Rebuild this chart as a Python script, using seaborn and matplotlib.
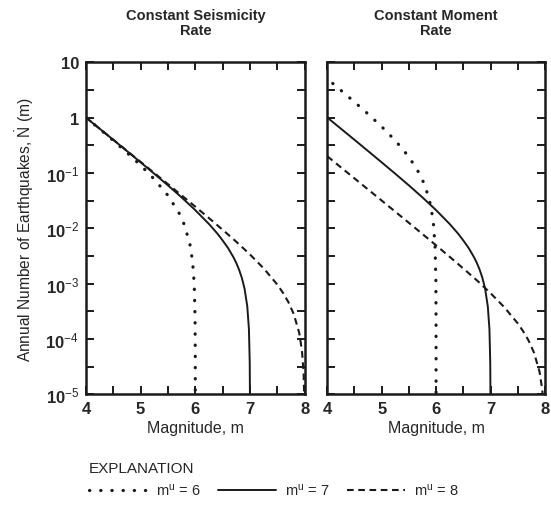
import numpy as np
import pandas as pd
import matplotlib
matplotlib.use("Agg")
import matplotlib.pyplot as plt
from matplotlib import ticker
import seaborn as sns

sns.set_style("ticks")
plt.rcParams["font.family"] = ["Liberation Sans", "DejaVu Sans"]
plt.rcParams["mathtext.fontset"] = "custom"
plt.rcParams["mathtext.rm"] = "Liberation Sans"
plt.rcParams["mathtext.it"] = "Liberation Sans"

BLACK = "#1a1a1a"

# ---- data ----
# constant seismicity rate panel
m_u6 = [4.0, 4.25, 4.5, 4.75, 5.0, 5.25, 5.5, 5.7, 5.8, 5.9, 5.95, 5.98, 5.995, 5.999, 6.0]
left_u6 = [1.0, 0.622, 0.383, 0.232, 0.137, 0.0768, 0.039, 0.019, 0.0115, 0.0052,
           0.0025, 0.00097, 0.00024, 0.000048, 1e-6]

m_u7 = [4.0, 4.25, 4.5, 4.75, 5.0, 5.25, 5.5, 5.75, 6.0, 6.25, 6.4, 6.5, 6.6, 6.7,
        6.75, 6.8, 6.85, 6.9, 6.95, 6.98, 6.995, 6.999, 7.0]
left_u7 = [1.0, 0.63, 0.396, 0.248, 0.155, 0.0964, 0.0594, 0.036, 0.0212, 0.0119,
           0.00807, 0.006, 0.00436, 0.00295, 0.00234, 0.00178, 0.00127, 0.00081,
           0.000386, 0.00015, 0.000037, 0.0000074, 1e-6]

m_u8 = [4.0, 4.25, 4.5, 4.75, 5.0, 5.25, 5.5, 5.75, 6.0, 6.25, 6.5, 6.75, 7.0, 7.25,
        7.5, 7.6, 7.7, 7.8, 7.9, 7.95, 7.98, 7.995, 8.0]
left_u8 = [1.0, 0.63, 0.3975, 0.2506, 0.158, 0.0994, 0.0625, 0.0392, 0.0245, 0.0152,
           0.00937, 0.00568, 0.00335, 0.00188, 0.000954, 0.000687, 0.000465,
           0.000281, 0.000128, 0.000061, 0.000024, 0.0000058, 1e-7]

# constant moment rate panel
m_u6_right = [4.1, 4.25, 4.5, 4.75, 5.0, 5.25, 5.5, 5.7, 5.8, 5.9, 5.95, 5.98, 5.995, 5.999, 6.0]
right_u6 = [4.14, 3.11, 1.91, 1.16, 0.684, 0.384, 0.195, 0.095, 0.0574, 0.0261,
            0.0124, 0.0048, 0.0012, 0.00024, 1e-6]
right_u7 = left_u7
right_u8 = [0.2, 0.126, 0.0795, 0.0501, 0.0316, 0.0199, 0.0125, 0.00784, 0.0049,
            0.00304, 0.00187, 0.00114, 0.00067, 0.000376, 0.000191, 0.000137,
            0.000093, 0.000056, 0.0000256, 0.0000122, 0.0000048, 0.0000012, 1e-7]

panel_titles = ["Constant Seismicity\nRate", "Constant Moment\nRate"]
legend_labels = ["m$^{\\mathrm{u}}$ = 6", "m$^{\\mathrm{u}}$ = 7", "m$^{\\mathrm{u}}$ = 8"]
y_ticks = [1e-5, 1e-4, 1e-3, 1e-2, 1e-1, 1, 10]

styles = {
    "u6": dict(linestyle=(0, (0.1, 3.4)), lw=2.3, dash_capstyle="round"),
    "u7": dict(linestyle="-", lw=1.4),
    "u8": dict(linestyle=(0, (3.2, 2.2)), lw=1.5),
}

fig = plt.figure(figsize=(5.51, 5.06), dpi=100)
ax1 = fig.add_axes([0.156, 0.219, 0.397, 0.656])
ax2 = fig.add_axes([0.594, 0.219, 0.395, 0.656])

panels = [
    (ax1, [(m_u6, left_u6), (m_u7, left_u7), (m_u8, left_u8)]),
    (ax2, [(m_u6_right, right_u6), (m_u7, right_u7), (m_u8, right_u8)]),
]

def ylab(v, pos):
    if v == 10:
        return "10"
    if v == 1:
        return "1"
    return "10$^{%d}$" % int(round(np.log10(v)))

handles = []
for k, (ax, curves) in enumerate(panels):
    ax.set_yscale("log")
    for key, (mm, nn) in zip(["u6", "u7", "u8"], curves):
        df = pd.DataFrame({"m": mm, "N": nn})
        sns.lineplot(data=df, x="m", y="N", ax=ax, color=BLACK, sort=False,
                     **styles[key])
        if k == 0:
            handles.append(ax.lines[-1])
    ax.set_xlim(4, 8)
    ax.set_ylim(1e-5, 10)
    ax.xaxis.set_major_locator(ticker.MultipleLocator(1))
    ax.xaxis.set_minor_locator(ticker.MultipleLocator(0.5))
    ax.yaxis.set_major_locator(ticker.FixedLocator(y_ticks))
    ax.yaxis.set_minor_locator(ticker.FixedLocator([10 ** (e + 0.5) for e in range(-5, 1)]))
    ax.yaxis.set_major_formatter(ticker.FuncFormatter(ylab))
    ax.yaxis.set_minor_formatter(ticker.NullFormatter())
    ax.tick_params(which="both", direction="in", top=True, right=True,
                   width=1.4, color=BLACK)
    ax.tick_params(which="major", length=6, labelsize=12, pad=5)
    ax.tick_params(which="minor", length=6)
    for lab in ax.get_xticklabels() + ax.get_yticklabels():
        lab.set_fontweight("bold")
    for sp in ax.spines.values():
        sp.set_linewidth(1.8)
        sp.set_color(BLACK)
    ax.set_xlabel("Magnitude, m", fontsize=11.5, labelpad=3)
    ax.set_title(panel_titles[k], fontsize=10.5, fontweight="bold", pad=20,
                 linespacing=1.1)

ax1.set_ylabel("Annual Number of Earthquakes, $\\dot{\\mathrm{N}}$ (m)", fontsize=11.2,
               labelpad=7)
ax2.set_ylabel("")
ax2.tick_params(labelleft=False)

leg = fig.legend(handles, legend_labels, loc="upper left", bbox_to_anchor=(0.145, 0.105),
                 ncol=3, frameon=False, title="EXPLANATION", alignment="left",
                 fontsize=10.5, title_fontsize=11, handlelength=4.0,
                 columnspacing=1.2, handletextpad=0.6, borderpad=0.1)

fig.savefig("out.png", dpi=100)
